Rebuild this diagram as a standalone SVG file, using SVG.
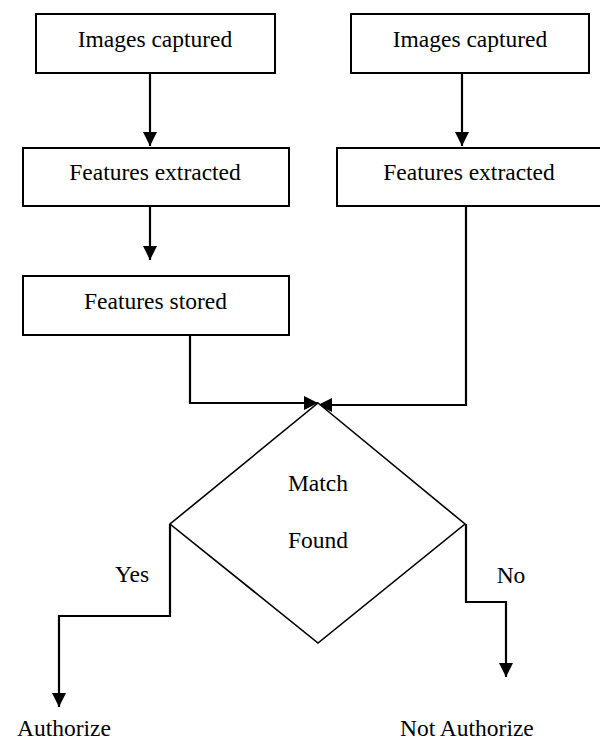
<svg xmlns="http://www.w3.org/2000/svg" width="600" height="742" viewBox="0 0 600 742">
<style>
.box{fill:#fff;stroke:#000;stroke-width:2}
.dia{fill:#fff;stroke:#000;stroke-width:1.6}
.conn{fill:none;stroke:#000;stroke-width:2.2}
text{font-family:"Liberation Serif","Times New Roman",serif;font-size:23.5px;fill:#000}
.c{text-anchor:middle}
</style>
<defs>
<marker id="ah" markerWidth="14" markerHeight="14" refX="14" refY="7" orient="auto" markerUnits="userSpaceOnUse">
<path d="M0,0 L14,7 L0,14 z" fill="#000"/>
</marker>
</defs>
<g id="connectors">
<line class="conn" x1="150" y1="73" x2="150" y2="146" marker-end="url(#ah)"/>
<line class="conn" x1="462" y1="73" x2="462" y2="146" marker-end="url(#ah)"/>
<line class="conn" x1="150" y1="206" x2="150" y2="260" marker-end="url(#ah)"/>
<polyline class="conn" points="190,335 190,403 318,403" marker-end="url(#ah)"/>
<polyline class="conn" points="466,206 466,405 318,405" marker-end="url(#ah)"/>
<polyline class="conn" points="170,524 170,616 59,616 59,707" marker-end="url(#ah)"/>
<polyline class="conn" points="466,524 466,602 506,602 506,677" marker-end="url(#ah)"/>
</g>
<g id="n1"><rect class="box" x="36" y="14" width="239" height="59"/><text class="c" x="155" y="47">Images captured</text></g>
<g id="n2"><rect class="box" x="351" y="14" width="238" height="59"/><text class="c" x="470" y="47">Images captured</text></g>
<g id="n3"><rect class="box" x="23" y="148" width="266" height="58"/><text class="c" x="155" y="180">Features extracted</text></g>
<g id="n4"><rect class="box" x="337" y="148" width="265" height="58"/><text class="c" x="469" y="180">Features extracted</text></g>
<g id="n5"><rect class="box" x="23" y="276" width="266" height="59"/><text class="c" x="155.5" y="309">Features stored</text></g>
<g id="n6"><polygon class="dia" points="318,403 465,524 318,643 170,524"/><text class="c" x="318" y="491">Match</text><text class="c" x="318" y="548">Found</text></g>
<g id="labels">
<text class="c" x="132" y="582">Yes</text>
<text class="c" x="511" y="583">No</text>
</g>
<g id="n7"><text x="17" y="736">Authorize</text></g>
<g id="n8"><text x="400" y="736">Not Authorize</text></g>
</svg>
